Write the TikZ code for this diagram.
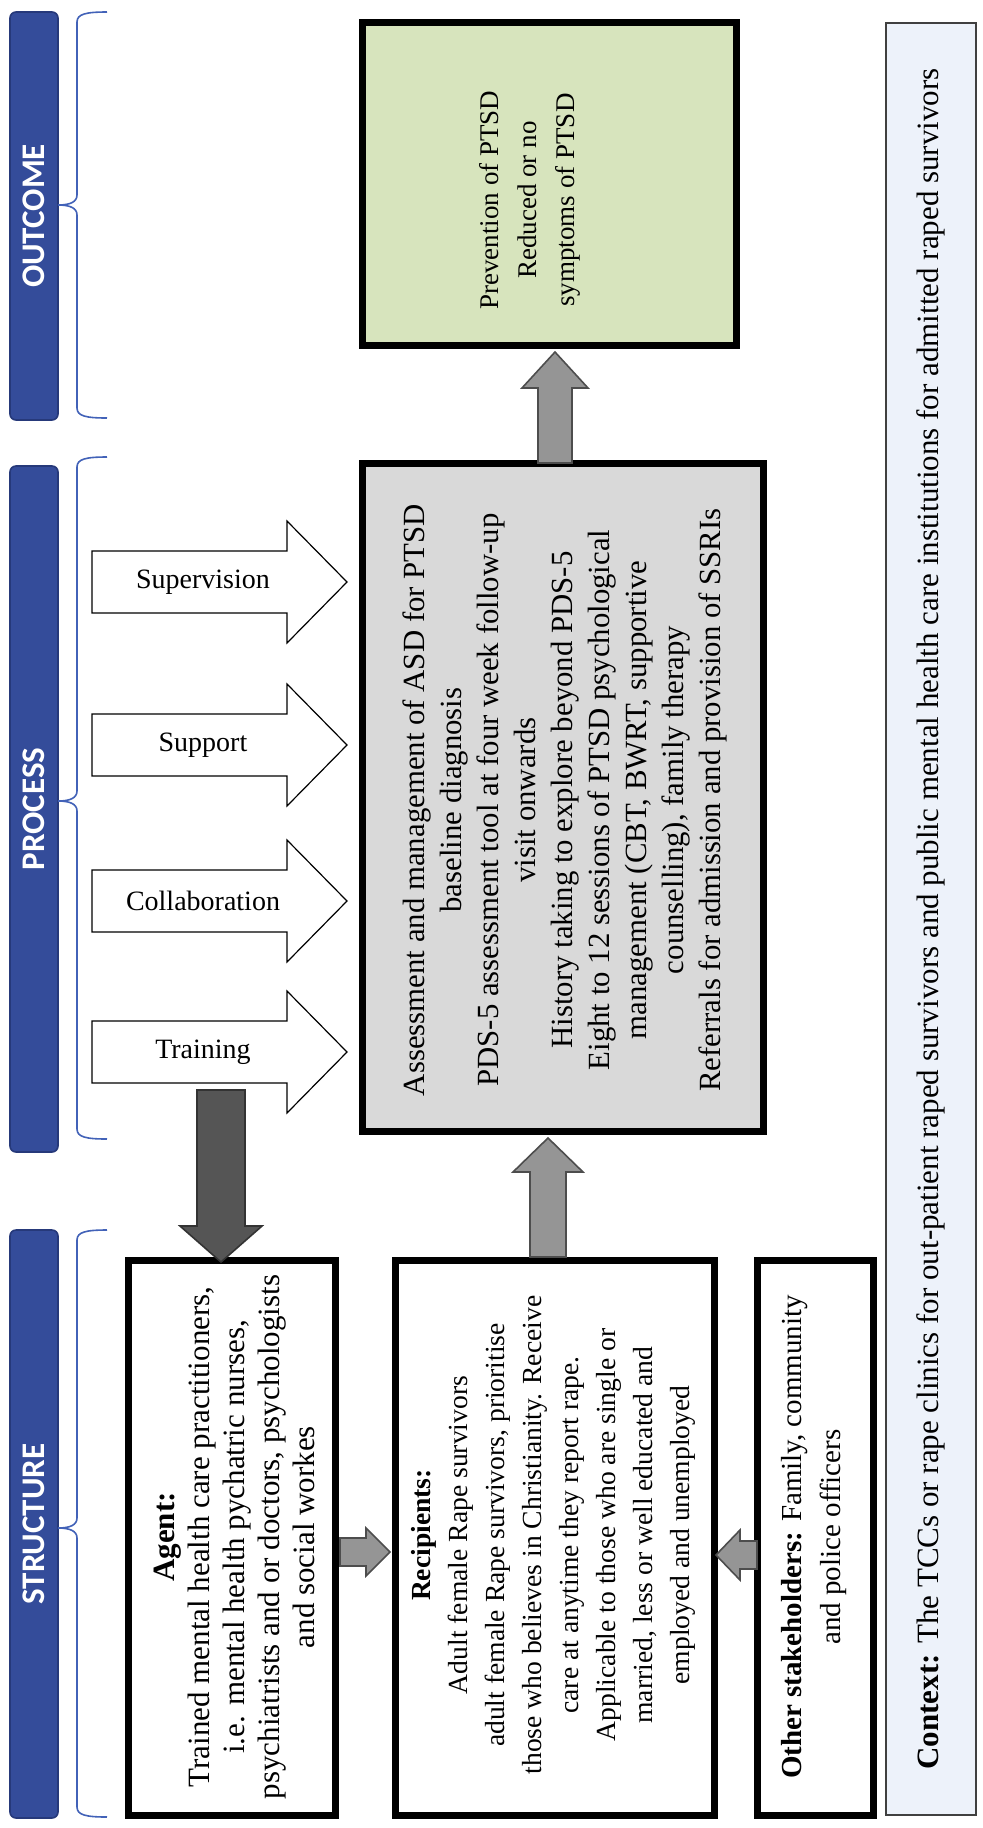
\documentclass[tikz,border=0pt]{standalone}
\usepackage{fontspec}
\setmainfont{Liberation Serif}
\newfontfamily\headfont{Carlito}
\usetikzlibrary{fit}
\definecolor{hdrblue}{HTML}{344C9A}
\definecolor{hdredge}{HTML}{26397A}
\definecolor{braceblue}{HTML}{4262B8}
\definecolor{outgreen}{HTML}{D7E4BD}
\definecolor{procgray}{HTML}{D9D9D9}
\definecolor{ctxblue}{HTML}{EDF2FA}
\definecolor{arrgray}{HTML}{959595}
\definecolor{arredge}{HTML}{4D4D4D}
\definecolor{darkarr}{HTML}{555555}
\begin{document}
\begin{tikzpicture}[x=0.5pt,y=-0.5pt,
  header/.style={draw=hdredge, fill=hdrblue, rounded corners=3pt, line width=0.8pt, inner sep=0pt},
  headtext/.style={rotate=90, text=white, inner sep=0pt, font=\headfont\bfseries\fontsize{16.5}{19}\selectfont},
  bracepath/.style={draw=braceblue, line width=0.8pt},
  thickbox/.style={draw=black, line width=3.5pt, inner sep=0pt},
  bodytext/.style={rotate=90, align=center, inner sep=0pt},
  whitearrow/.style={draw=black, fill=white, line width=0.6pt, line join=miter},
  grayarrow/.style={draw=arredge, fill=arrgray, line width=0.8pt, line join=miter},
  darkarrow/.style={draw=black!80, fill=darkarr, line width=0.8pt, line join=miter},
  arrowlabel/.style={inner sep=0pt, font=\fontsize{14}{16}\selectfont}
]
\useasboundingbox (0,0) rectangle (982,1828);
\fill[white] (0,0) rectangle (982,1828);

% header bars
\node[header, fit={(10,12) (58,420)}] (hOut) {};
\node[header, fit={(10,466) (58,1152)}] (hProc) {};
\node[header, fit={(10,1230) (58,1818)}] (hStr) {};
\node[headtext] (tOut) at (hOut.center) {OUTCOME};
\node[headtext] (tProc) at (hProc.center) {PROCESS};
\node[headtext] (tStr) at (hStr.center) {STRUCTURE};

% braces
\foreach \t/\m/\b in {12/205/418, 457/801/1139, 1230/1528/1817}{
  \draw[bracepath] (107,\t) .. controls (86,\t) and (77,\t+2) .. (77,\t+10)
    -- (77,\m-10) .. controls (77,\m-3) and (70,\m) .. (58,\m)
    .. controls (70,\m) and (77,\m+3) .. (77,\m+10)
    -- (77,\b-10) .. controls (77,\b-2) and (86,\b) .. (107,\b);
}

% boxes
\node[thickbox, fill=outgreen, fit={(362,22) (736,345)}] (outcome) {};
\node[thickbox, fill=procgray, fit={(362,463) (763,1131)}] (process) {};
\node[thickbox, fill=white, fit={(128,1260) (335,1815)}] (agent) {};
\node[thickbox, fill=white, fit={(395,1260) (714,1815)}] (recip) {};
\node[thickbox, fill=white, fit={(757,1260) (873,1815)}] (other) {};
\node[draw=black!75, line width=0.8pt, fill=ctxblue, inner sep=0pt, fit={(886,23) (976,1815)}] (context) {};

% texts
\node[bodytext, font=\fontsize{13.5}{19}\selectfont] (outT) at (530,200)
  {Prevention of PTSD\\Reduced or no\\symptoms of PTSD};
\node[bodytext, font=\fontsize{15.4}{18.5}\selectfont] (procT) at (565,800)
  {Assessment and management of ASD for PTSD\\
   baseline diagnosis\\
   PDS-5 assessment tool at four week follow-up\\
   visit onwards\\
   History taking to explore beyond PDS-5\\
   Eight to 12 sessions of PTSD psychological\\
   management (CBT, BWRT, supportive\\
   counselling), family therapy\\
   Referrals for admission and provision of SSRIs};
\node[bodytext, font=\fontsize{15.5}{17.5}\selectfont] (agentT) at (234,1537)
  {\textbf{Agent:}\\
   Trained mental health care practitioners,\\
   i.e. mental health pychatric nurses,\\
   psychiatrists and or doctors, psychologists\\
   and social workes};
\node[bodytext, font=\fontsize{13.8}{18.5}\selectfont] (recipT) at (553,1535)
  {\textbf{Recipients:}\\
   Adult female Rape survivors\\
   adult female Rape survivors, prioritise\\
   those who believes in Christianity. Receive\\
   care at anytime they report rape.\\
   Applicable to those who are single or\\
   married, less or well educated and\\
   employed and unemployed};
\node[bodytext, font=\fontsize{14.5}{19.5}\selectfont] (otherT) at (814,1537)
  {\textbf{Other stakeholders:} Family, community\\and police officers};
\node[bodytext, font=\fontsize{15.5}{18}\selectfont] (ctxT) at (931,919)
  {\textbf{Context:} The TCCs or rape clinics for out-patient raped survivors and public mental health care institutions for admitted raped survivors};

% white process arrows
\foreach \cy/\lab/\nm in {582/Supervision/sup, 745/Support/supp, 901/Collaboration/coll, 1052/Training/train}{
  \draw[whitearrow] (92,\cy-31) -- (287,\cy-31) -- (287,\cy-61) -- (347,\cy)
     -- (287,\cy+61) -- (287,\cy+31) -- (92,\cy+31) -- cycle;
  \node[arrowlabel] (l\nm) at (203,\cy) {\lab};
}

% dark arrow training -> agent
\draw[darkarrow] (197,1090) -- (197,1226) -- (180,1226) -- (221,1262)
   -- (262,1226) -- (245,1226) -- (245,1090) -- cycle;

% gray arrows
\draw[grayarrow] (538,463) -- (538,388) -- (522,388) -- (555,352) -- (588,388) -- (572,388) -- (572,463) -- cycle;
\draw[grayarrow] (530,1257) -- (530,1172) -- (513,1172) -- (548,1138) -- (583,1172) -- (566,1172) -- (566,1257) -- cycle;
\draw[grayarrow] (340,1538) -- (366,1538) -- (366,1528) -- (390,1552) -- (366,1576) -- (366,1566) -- (340,1566) -- cycle;
\draw[grayarrow] (757,1541) -- (740,1541) -- (740,1530) -- (716,1555) -- (740,1580) -- (740,1569) -- (757,1569) -- cycle;
\end{tikzpicture}
\end{document}
